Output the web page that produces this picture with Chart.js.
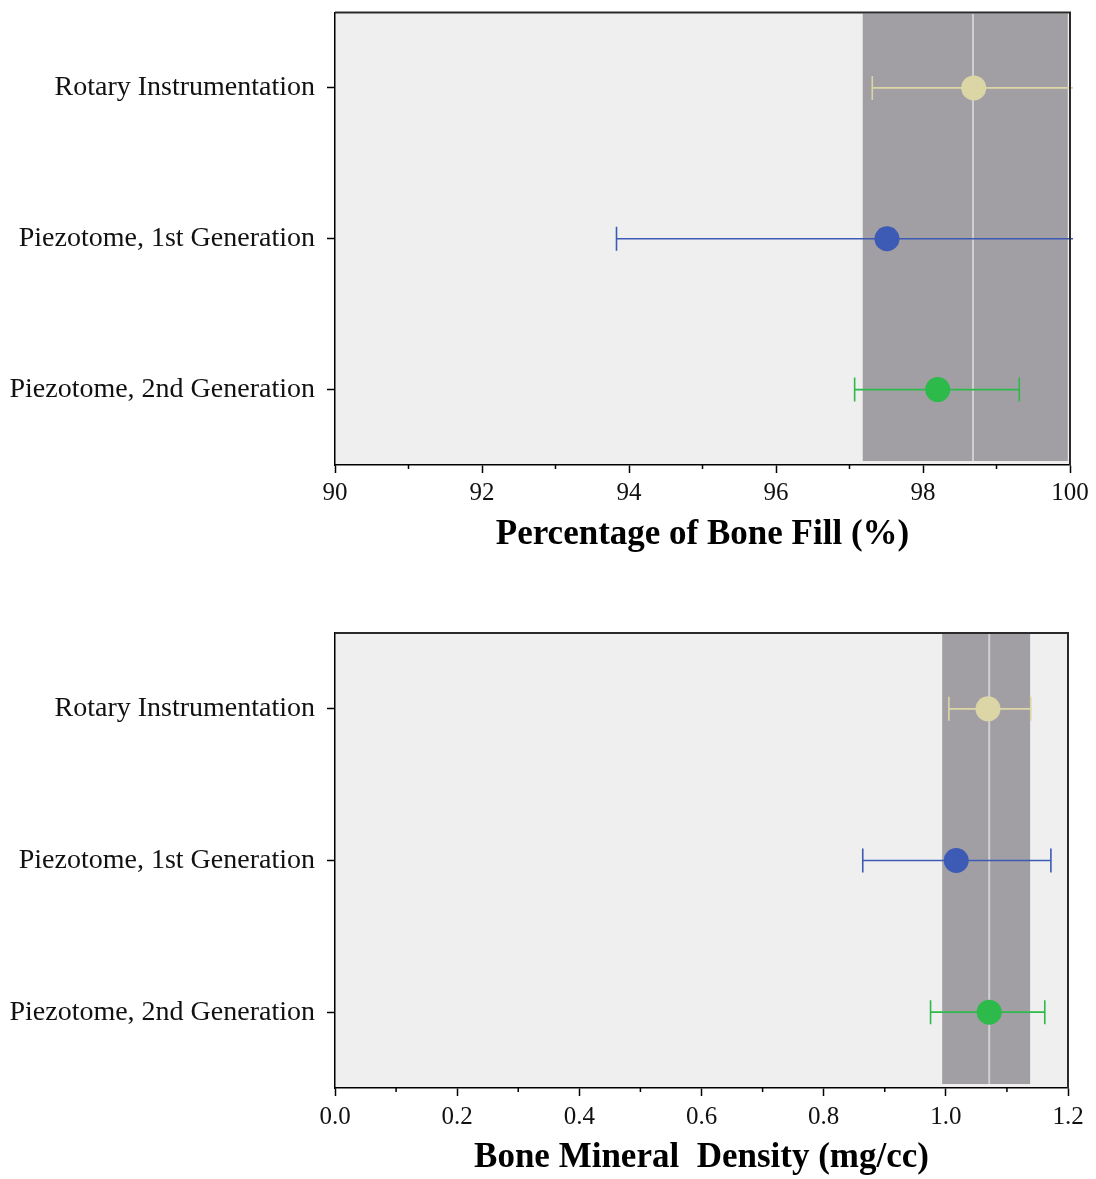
<!DOCTYPE html>
<html>
<head>
<meta charset="utf-8">
<script src="https://cdn.jsdelivr.net/npm/chart.js@4.4.0/dist/chart.umd.min.js"></script>
<style>
  html, body { margin: 0; padding: 0; background: #fff; }
  .wrap { position: absolute; left: 0; width: 1096px; }
  #topWrap { top: 0; height: 575px; }
  #bottomWrap { top: 620px; height: 559px; }
</style>
</head>
<body>
<div class="wrap" id="topWrap"><canvas id="fillChart"></canvas></div>
<div class="wrap" id="bottomWrap"><canvas id="bmdChart"></canvas></div>

<script>
/* ── Data ── */
const groups = ['Rotary Instrumentation', 'Piezotome, 1st Generation', 'Piezotome, 2nd Generation'];
const groupColors = ['#dcd6a6', '#3d5bb5', '#2dba4a'];

/* Percentage of bone fill */
const fillMean = [98.69, 97.51, 98.2];
const fillLow = [97.31, 93.83, 97.07];
const fillHigh = [100.6, 100.6, 99.31];
const fillTicks = [90, 92, 94, 96, 98, 100];
const fillMinorTicks = [91, 93, 95, 97, 99];
const fillBand = [97.18, 99.97];
const fillOverall = 98.68;

/* Bone mineral density */
const bmdMean = [1.069, 1.017, 1.071];
const bmdLow = [1.005, 0.864, 0.975];
const bmdHigh = [1.139, 1.172, 1.162];
const bmdTicks = [0, 0.2, 0.4, 0.6, 0.8, 1.0, 1.2];
const bmdMinorTicks = [0.1, 0.3, 0.5, 0.7, 0.9, 1.1];
const bmdBand = [0.994, 1.138];
const bmdOverall = 1.071;

const SERIF = "'Liberation Serif', 'Times New Roman', serif";

/* Background, band, error bars, frame and minor ticks */
const forestPlugin = {
  id: 'forest',
  beforeDraw(chart, args, o) {
    const { ctx, chartArea: a } = chart;
    ctx.save();
    ctx.fillStyle = '#efefef';
    ctx.fillRect(a.left, a.top, a.right - a.left, a.bottom - a.top);
    ctx.restore();
  },
  beforeDatasetsDraw(chart, args, o) {
    const { ctx, chartArea: a, scales: { x, y } } = chart;
    ctx.save();
    /* grey band */
    const b0 = x.getPixelForValue(o.band[0]);
    const b1 = Math.min(x.getPixelForValue(o.band[1]), a.right - 2);
    ctx.fillStyle = '#a19fa4';
    ctx.fillRect(b0, a.top + 1, b1 - b0, a.bottom - a.top - 5);
    /* overall line */
    const m = x.getPixelForValue(o.overall);
    ctx.strokeStyle = '#d0d0d0';
    ctx.lineWidth = 2;
    ctx.beginPath();
    ctx.moveTo(m, a.top + 1);
    ctx.lineTo(m, a.bottom - 4);
    ctx.stroke();
    /* error bars */
    ctx.lineWidth = 1.6;
    o.low.forEach((lo, i) => {
      const yy = y.getPixelForValue(i);
      const hi = o.high[i];
      let x0 = x.getPixelForValue(lo);
      let x1 = x.getPixelForValue(hi);
      const capR = x1 <= a.right + 1;
      const capL = x0 >= a.left - 1;
      x0 = Math.max(x0, a.left - 3);
      x1 = Math.min(x1, a.right + 3);
      ctx.strokeStyle = groupColors[i];
      ctx.beginPath();
      ctx.moveTo(x0, yy);
      ctx.lineTo(x1, yy);
      if (capL) { ctx.moveTo(x0, yy - 12); ctx.lineTo(x0, yy + 12); }
      if (capR) { ctx.moveTo(x1, yy - 12); ctx.lineTo(x1, yy + 12); }
      ctx.stroke();
    });
    ctx.restore();
  },
  afterDraw(chart, args, o) {
    const { ctx, chartArea: a, scales: { x } } = chart;
    ctx.save();
    /* top and right frame */
    ctx.strokeStyle = '#2a2a2a';
    ctx.lineWidth = 2;
    ctx.beginPath();
    ctx.moveTo(a.left, a.top);
    ctx.lineTo(a.right, a.top);
    ctx.lineTo(a.right, a.bottom);
    ctx.stroke();
    /* short minor ticks */
    ctx.strokeStyle = '#000';
    ctx.lineWidth = 1.5;
    ctx.beginPath();
    o.minor.forEach(v => {
      const px = x.getPixelForValue(v);
      ctx.moveTo(px, a.bottom);
      ctx.lineTo(px, a.bottom + 4);
    });
    ctx.stroke();
    ctx.restore();
  }
};

function makeChart(id, cfg) {
  const points = cfg.mean.map((v, i) => ({ x: v, y: groups[i] }));
  return new Chart(document.getElementById(id), {
    type: 'scatter',
    data: {
      labels: groups,
      datasets: [{
        data: points,
        pointRadius: 12.5,
        pointHoverRadius: 12.5,
        pointBackgroundColor: groupColors,
        pointBorderWidth: 0,
      }],
    },
    options: {
      responsive: true,
      maintainAspectRatio: false,
      animation: false,
      events: [],
      layout: { padding: cfg.padding },
      plugins: {
        legend: { display: false },
        tooltip: { enabled: false },
        forest: {
          band: cfg.band,
          overall: cfg.overall,
          low: cfg.low,
          high: cfg.high,
          minor: cfg.minor,
        },
      },
      scales: {
        x: {
          type: 'linear',
          position: 'bottom',
          min: cfg.ticks[0],
          max: cfg.ticks[cfg.ticks.length - 1],
          afterBuildTicks: s => { s.ticks = cfg.ticks.map(v => ({ value: v })); },
          afterFit: s => { s.height = cfg.xHeight; },
          grid: { drawOnChartArea: false, drawTicks: true, tickLength: 8, color: '#000', tickWidth: 1.5 },
          border: { display: true, color: '#000', width: 1.5 },
          ticks: {
            color: '#111',
            padding: cfg.tickPad,
            maxRotation: 0,
            font: { family: SERIF, size: 25 },
            callback: v => cfg.fmt(v),
          },
          title: {
            display: true,
            text: cfg.title,
            color: '#000',
            font: { family: SERIF, size: 35, weight: 'bold' },
            padding: { top: 0, bottom: cfg.titlePad },
          },
        },
        y: {
          type: 'category',
          labels: groups,
          offset: true,
          afterFit: s => { s.width = 335; s.paddingTop = 0; s.paddingBottom = 0; },
          grid: { drawOnChartArea: false, drawTicks: true, tickLength: 8, color: '#000', tickWidth: 1.5, offset: false },
          border: { display: true, color: '#000', width: 1.5 },
          ticks: {
            color: '#111',
            padding: 12,
            font: { family: SERIF, size: 28 },
          },
        },
      },
    },
    plugins: [forestPlugin],
  });
}

makeChart('fillChart', {
  mean: fillMean, low: fillLow, high: fillHigh,
  ticks: fillTicks, minor: fillMinorTicks,
  band: fillBand, overall: fillOverall,
  title: 'Percentage of Bone Fill (%)',
  fmt: v => String(v),
  padding: { top: 10, right: 26, left: 0, bottom: 0 },
  xHeight: 110, tickPad: 5, titlePad: 19,
});

makeChart('bmdChart', {
  mean: bmdMean, low: bmdLow, high: bmdHigh,
  ticks: bmdTicks, minor: bmdMinorTicks,
  band: bmdBand, overall: bmdOverall,
  title: 'Bone Mineral  Density (mg/cc)',
  fmt: v => v.toFixed(1),
  padding: { top: 13, right: 28, left: 0, bottom: 0 },
  xHeight: 91, tickPad: 6, titlePad: 0,
});
</script>
</body>
</html>
